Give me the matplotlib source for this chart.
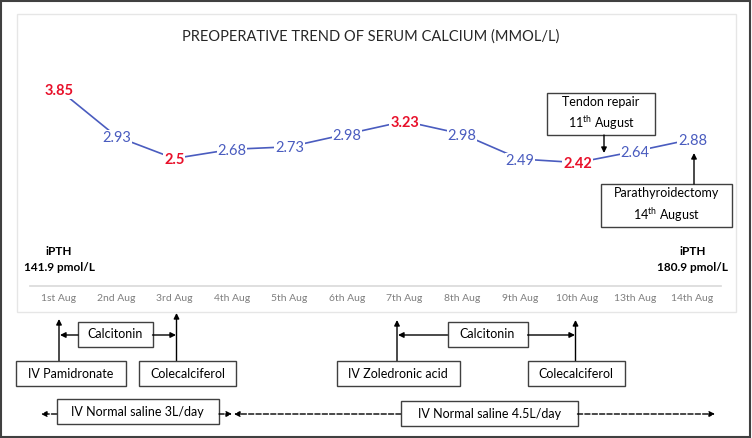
import matplotlib
matplotlib.use('Agg')
import matplotlib.pyplot as plt
from matplotlib.patches import Rectangle

plt.rcParams['font.family'] = ['Lato', 'DejaVu Sans']

days = ['1st Aug', '2nd Aug', '3rd Aug', '4th Aug', '5th Aug', '6th Aug', '7th Aug',
        '8th Aug', '9th Aug', '10th Aug', '13th Aug', '14th Aug']
calcium = [3.85, 2.93, 2.5, 2.68, 2.73, 2.98, 3.23, 2.98, 2.49, 2.42, 2.64, 2.88]
highlight = [True, False, True, False, False, False, True, False, False, True, False, False]
title = 'PREOPERATIVE TREND OF SERUM CALCIUM (MMOL/L)'
ipth_start = 'iPTH\n141.9 pmol/L'
ipth_end = 'iPTH\n180.9 pmol/L'

BLUE = '#4a5cbf'
RED = '#e8102a'
W, H = 752, 438

fig = plt.figure(figsize=(W / 100, H / 100), dpi=100)

# overlay axes in pixel coordinates for the frame, boxes and arrows
ov = fig.add_axes([0, 0, 1, 1])
ov.set_xlim(0, W)
ov.set_ylim(H, 0)
ov.axis('off')

# data axes: categories at px 59 + 57.6*i, value 0 at px 286, 51 px per unit
x0, dx = 59, 57.6
y0, py = 286, 51.0
ymax = 4.5
ax = fig.add_axes([(x0 - dx / 2) / W, (H - y0) / H, dx * len(days) / W, ymax * py / H])
ax.set_xlim(-0.5, len(days) - 0.5)
ax.set_ylim(0, ymax)
ax.patch.set_alpha(0)
for s in ['top', 'right', 'left']:
    ax.spines[s].set_visible(False)
ax.spines['bottom'].set_color('#d9d9d9')
ax.spines['bottom'].set_linewidth(1.2)
ax.set_yticks([])
ax.set_xticks(range(len(days)))
ax.set_xticklabels(days, fontsize=7.5, color='#7f7f7f')
ax.tick_params(axis='x', length=0, pad=6)

xs = list(range(len(days)))
ax.plot(xs, calcium, color=BLUE, lw=1.2, zorder=2)
for x, v, hl in zip(xs, calcium, highlight):
    ax.text(x, v, f'{v:g}', ha='center', va='center_baseline', fontsize=10.5,
            color=RED if hl else BLUE, fontweight='bold' if hl else 'normal', zorder=3,
            bbox=dict(boxstyle='square,pad=0.05', fc='white', ec='none'))

ax.text(0, 0.52, ipth_start, ha='center', va='center', fontsize=8.5, fontweight='bold',
        linespacing=1.6)
ax.text(len(days) - 1, 0.52, ipth_end, ha='center', va='center', fontsize=8.5,
        fontweight='bold', linespacing=1.6)

# frames
ov.add_patch(Rectangle((1, 1), W - 3, H - 2.5, fill=False, ec='#404040', lw=1.5))
ov.add_patch(Rectangle((17, 14), 719, 298, fill=False, ec='#e6e6e6', lw=1))
ov.text(371, 37, title, ha='center', va='center', fontsize=10.5, color='#262626')


def box(x1, y1, x2, y2, text, fs=9):
    ov.add_patch(Rectangle((x1, y1), x2 - x1, y2 - y1, fill=True, fc='white',
                           ec='#404040', lw=1, zorder=3))
    ov.text((x1 + x2) / 2, (y1 + y2) / 2, text, ha='center', va='center',
            fontsize=fs, zorder=4, linespacing=1.5)


def arrow(xa, ya, xb, yb, style='-'):
    ov.annotate('', xy=(xb, yb), xytext=(xa, ya),
                arrowprops=dict(arrowstyle='-|>', color='black', lw=1, ls=style,
                                mutation_scale=8, shrinkA=0, shrinkB=0))


# surgical events
box(547, 93, 655, 135, 'Tendon repair\n11$^{\\mathregular{th}}$ August')
arrow(604, 135, 604, 153)
box(601, 184, 732, 227, 'Parathyroidectomy\n14$^{\\mathregular{th}}$ August')
arrow(694, 184, 694, 153)

# medications, first course
arrow(59, 361, 59, 319)
arrow(176.5, 361, 176.5, 313)
box(78, 322, 152.5, 347, 'Calcitonin')
arrow(78, 335, 60, 335)
arrow(152.5, 335, 176, 335)
box(16, 361, 126, 386, 'IV Pamidronate')
box(139, 361, 236, 386, 'Colecalciferol')

# medications, second course
arrow(397, 361, 397, 320)
arrow(575.5, 361, 575.5, 320)
box(447.5, 322, 527.6, 347, 'Calcitonin')
arrow(447.5, 335, 398, 335)
arrow(527.6, 335, 575, 335)
box(337, 361, 459.5, 386, 'IV Zoledronic acid')
box(527.6, 361, 624.5, 386, 'Colecalciferol')

# saline
box(56.6, 399, 219, 424, 'IV Normal saline 3L/day')
arrow(56.6, 414, 41, 414, '--')
arrow(219, 414, 232, 414, '--')
arrow(401, 414, 234, 414, '--')
box(401, 401, 577.5, 426, 'IV Normal saline 4.5L/day')
arrow(577.5, 414, 715, 414, '--')

fig.savefig('out.png', dpi=100)
